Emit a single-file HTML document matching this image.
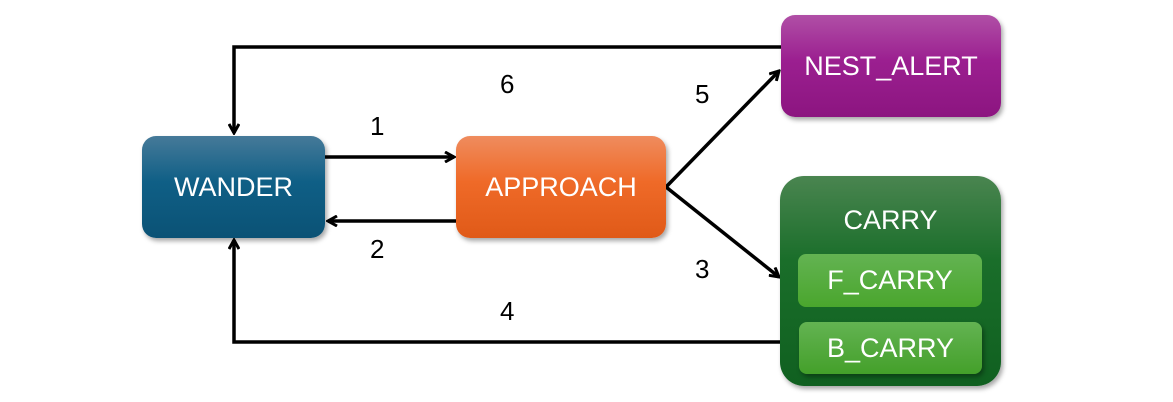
<!DOCTYPE html>
<html><head><style>
body{margin:0;width:1173px;height:402px;background:#fff;position:relative;overflow:hidden;font-family:"Liberation Sans",sans-serif}
.b{position:absolute;border-radius:14px;color:#fff;font-size:27px;display:flex;align-items:center;justify-content:center;box-shadow:2px 3px 5px rgba(0,0,0,.35)}
.l{position:absolute;font-size:26px;color:#000}
</style></head><body>
<svg width="1173" height="402" style="position:absolute;left:0;top:0">
<defs><marker id="a" markerWidth="12" markerHeight="12" refX="10" refY="6" orient="auto" markerUnits="userSpaceOnUse"><path d="M1,1 L10,6 L1,11" fill="none" stroke="#000" stroke-width="3"/></marker></defs>
<g stroke="#000" stroke-width="3.5" fill="none">
<path d="M325,157 H454" marker-end="url(#a)"/>
<path d="M456,221 H328" marker-end="url(#a)"/>
<path d="M781,47 H234 V133" marker-end="url(#a)"/>
<path d="M780,342 H234 V240" marker-end="url(#a)"/>
<path d="M666,187 L779,71" marker-end="url(#a)"/>
<path d="M666,187 L779,277" marker-end="url(#a)"/>
</g></svg>
<div class="b" style="left:142px;top:136px;width:183px;height:102px;background:linear-gradient(#467a99,#0f5f86 45%,#0b5275)">WANDER</div>
<div class="b" style="left:456px;top:136px;width:210px;height:102px;background:linear-gradient(#ef8c5e,#ef6a28 45%,#e05a18)">APPROACH</div>
<div class="b" style="left:781px;top:15px;width:220px;height:102px;background:linear-gradient(#b04fa6,#9b1f90 45%,#8c1580)">NEST_ALERT</div>
<div class="b" style="left:780px;top:176px;width:221px;height:210px;border-radius:24px;align-items:flex-start;padding-top:29px;box-sizing:border-box;background:linear-gradient(#4a8550,#1a6e2a 40%,#106020)">CARRY</div>
<div class="b" style="left:798px;top:254px;width:184px;height:53px;border-radius:8px;background:linear-gradient(#63b352,#4aa62d);box-shadow:none">F_CARRY</div>
<div class="b" style="left:799px;top:322px;width:183px;height:52px;border-radius:8px;background:linear-gradient(#63b352,#44a02a)">B_CARRY</div>
<div class="l" style="left:500px;top:69px">6</div>
<div class="l" style="left:370px;top:111px">1</div>
<div class="l" style="left:370px;top:234px">2</div>
<div class="l" style="left:695px;top:79px">5</div>
<div class="l" style="left:695px;top:254px">3</div>
<div class="l" style="left:500px;top:296px">4</div>
</body></html>
